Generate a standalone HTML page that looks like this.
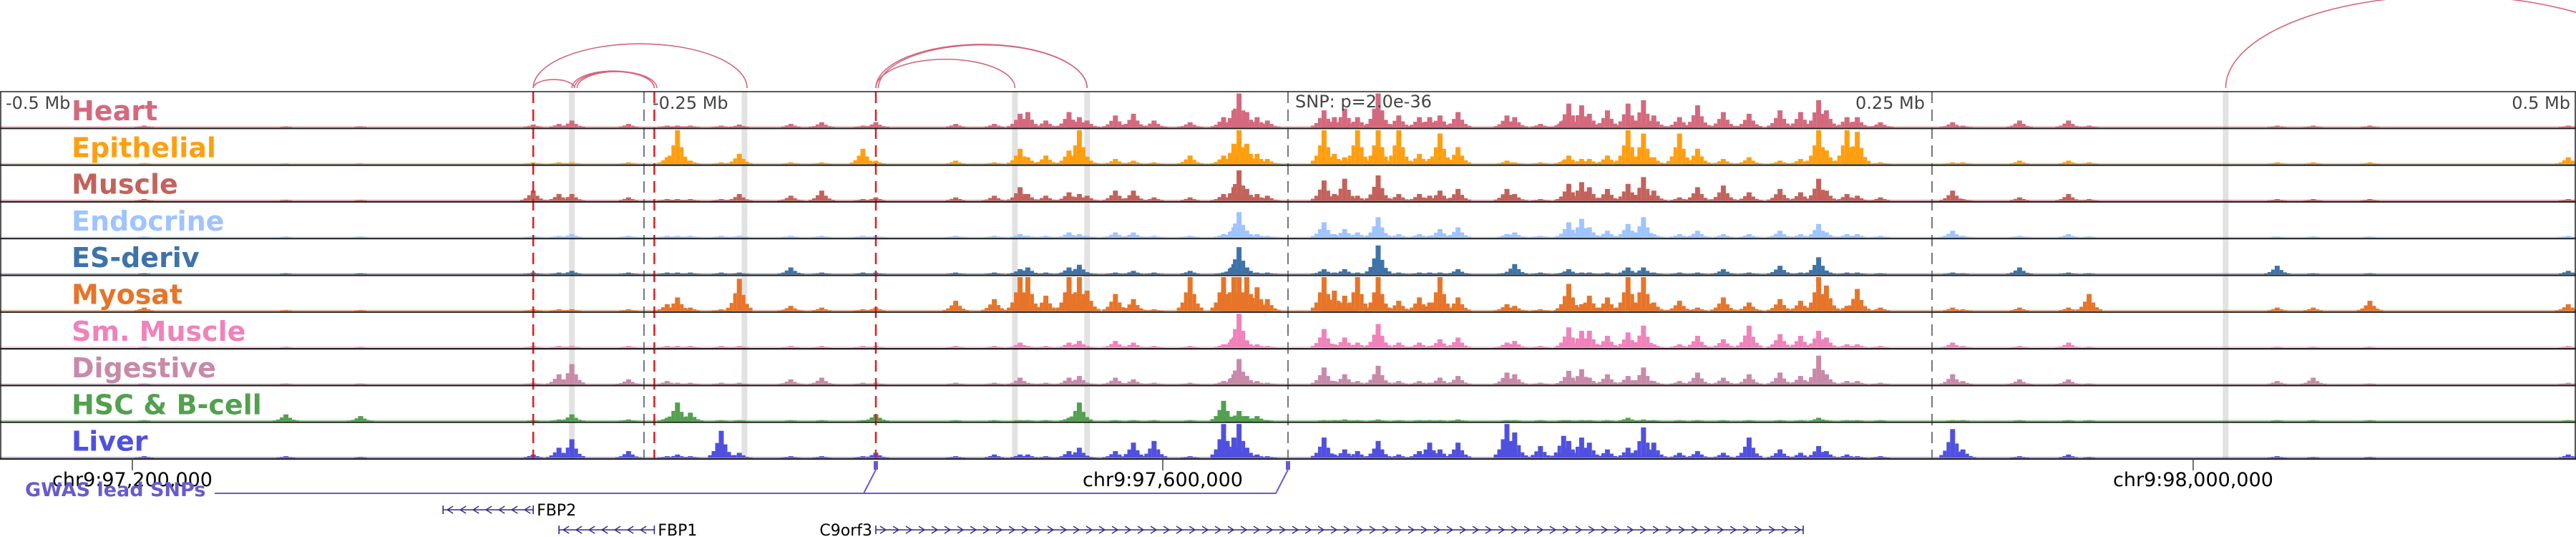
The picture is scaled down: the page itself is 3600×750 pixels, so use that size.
<!DOCTYPE html>
<html><head><meta charset="utf-8">
<style>
html,body{margin:0;padding:0;background:#fff;}
svg{display:block;font-family:"DejaVu Sans","Liberation Sans",sans-serif;}
</style></head>
<body>
<svg id="chart" width="3600" height="750" viewBox="0 0 3600 750" xmlns="http://www.w3.org/2000/svg">
<g id="bands"></g>
<g id="tracks"></g>
<g id="vlines"></g>
<g id="frame"></g>
<g id="arcs"></g>
<g id="labels"></g>
<g id="axis"></g>
<g id="gwas"></g>
<g id="genes"></g>
<text x="8" y="152" font-size="24" fill="#444">-0.5 Mb</text>
<text x="912" y="152" font-size="24" fill="#444">-0.25 Mb</text>
<text x="2690" y="152" font-size="24" fill="#444" text-anchor="end">0.25 Mb</text>
<text x="3592" y="152" font-size="24" fill="#444" text-anchor="end">0.5 Mb</text>
<text x="1810" y="150" font-size="24" fill="#444">SNP: p=2.0e-36</text>
</svg>
<script>
// ---- data ----
const trackNames = ["Heart","Epithelial","Muscle","Endocrine","ES-deriv","Myosat","Sm. Muscle","Digestive","HSC & B-cell","Liver"];
const trackColors = ["#d4697d","#ff9f10","#c3625b","#9fc4ff","#3e73a9","#e77428","#f082bb","#c88aa9","#52a050","#5050e0"];
// peak positions, kb relative to lead SNP
const peakKb = [-444,-389,-360,-293,-283,-278,-256,-241,-237,-232,-220,-213,-193,-181,-165,-160,-129,-114,-104,-101,-94,-85,-81,-78,-67,-60,-52,-38,-25,-21,-19,-16,-12,-8,14,18,22,27,35,43,51,55,59,66,85,88,98,107,109,114,117,124,132,138,142,152,159,169,179,191,199,206,209,217,221,230,258,262,284,303,311,384,398,420,497];
const heart = [.05,.03,.03,.08,.1,.2,.1,.05,.05,.05,.05,.08,.1,.15,.05,.15,.1,.1,.4,.45,.2,.45,.3,.2,.35,.4,.2,.15,.3,.5,1,.45,.3,.2,.5,.3,.55,.3,1,.35,.3,.3,.35,.45,.35,.3,.1,.2,.7,.65,.4,.5,.7,.8,.35,.3,.65,.45,.4,.5,.45,.8,.5,.3,.3,.15,.15,.05,.2,.2,.05,.05,.05,.05,.05];
const epithelial = [.03,.02,.02,.05,.05,.05,.05,.2,1,.1,.05,.3,.05,.05,.45,.1,.1,.05,.45,.2,.25,.4,1,.2,.15,.1,.05,.25,.25,.6,1,.6,.3,.15,1,.3,.2,1,1,1,.3,.15,.9,.5,.1,.05,.05,.1,.25,.15,.15,.25,1,.9,.2,.9,.45,.15,.2,.1,.15,1,.4,1,.95,.05,.05,.05,.1,.1,.05,.05,.05,.05,.2];
const muscle = [.05,.03,.03,.3,.2,.2,.1,.05,.05,.05,.05,.2,.15,.3,.05,.1,.1,.15,.4,.2,.15,.25,.2,.15,.3,.3,.1,.1,.2,.4,.9,.35,.2,.15,.6,.2,.65,.15,.75,.2,.2,.15,.3,.35,.35,.2,.05,.1,.5,.55,.4,.35,.5,.7,.3,.1,.4,.45,.25,.35,.25,.65,.3,.2,.15,.1,.3,.05,.1,.2,.05,.05,.05,.05,.05];
const endocrine = [.03,.03,.03,.05,.05,.1,.05,.05,.05,.05,.05,.05,.05,.05,.05,.05,.05,.05,.1,.05,.05,.15,.1,.05,.15,.15,.05,.05,.1,.3,.75,.2,.1,.05,.45,.1,.25,.15,.6,.1,.1,.05,.25,.3,.1,.15,.05,.05,.45,.55,.3,.2,.4,.6,.1,.1,.2,.1,.1,.2,.1,.4,.15,.1,.1,.05,.2,.05,.05,.1,.03,.03,.03,.03,.05];
const esDeriv = [.03,.03,.03,.05,.05,.1,.05,.05,.05,.05,.05,.05,.2,.05,.05,.05,.05,.05,.15,.2,.05,.2,.28,.05,.05,.1,.05,.1,.05,.3,.8,.2,.05,.05,.15,.05,.15,.05,.85,.05,.05,.05,.05,.15,.05,.3,.05,.05,.15,.05,.05,.05,.2,.2,.05,.05,.05,.15,.05,.25,.05,.5,.1,.05,.05,.03,.05,.03,.2,.05,.03,.25,.03,.03,.1];
const myosat = [.1,.03,.03,.05,.05,.05,.05,.2,.4,.1,.05,.95,.15,.1,.05,.1,.3,.35,1,1,.45,1,1,.6,.5,.35,.05,1,1,1,1,1,.7,.35,1,.6,.45,1,1,.3,.4,.25,1,.4,.2,.15,.05,.1,.8,.2,.45,.4,1,1,.25,.3,.1,.4,.25,.35,.3,1,.75,.15,.65,.1,.1,.05,.1,.1,.5,.1,.1,.3,.2];
const smMuscle = [.03,.03,.03,.05,.05,.05,.05,.05,.05,.05,.05,.05,.05,.05,.05,.05,.05,.05,.15,.05,.05,.15,.2,.05,.2,.15,.05,.05,.1,.3,1,.2,.1,.05,.55,.1,.3,.15,.7,.15,.15,.05,.25,.3,.15,.2,.05,.05,.6,.5,.5,.35,.45,.65,.1,.1,.35,.25,.65,.4,.35,.5,.3,.1,.1,.05,.15,.05,.05,.15,.03,.03,.03,.03,.05];
const digestive = [.03,.03,.03,.05,.3,.6,.15,.1,.05,.05,.05,.05,.15,.2,.05,.05,.05,.05,.2,.05,.05,.2,.25,.05,.2,.15,.05,.05,.1,.3,.75,.25,.1,.05,.5,.1,.3,.1,.55,.1,.1,.05,.2,.25,.35,.3,.05,.05,.4,.45,.2,.3,.25,.5,.1,.1,.35,.2,.3,.35,.25,.85,.3,.1,.1,.05,.3,.1,.15,.15,.03,.1,.2,.03,.05];
const hsc = [.03,.2,.15,.03,.05,.2,.05,.1,.55,.25,.03,.03,.03,.03,.03,.2,.03,.03,.03,.03,.03,.1,.55,.03,.03,.03,.03,.03,.6,.05,.3,.15,.15,.03,.03,.03,.05,.03,.05,.03,.03,.03,.03,.05,.03,.03,.03,.03,.03,.03,.03,.03,.1,.05,.03,.03,.03,.03,.03,.03,.03,.1,.03,.03,.03,.03,.03,.03,.03,.03,.03,.03,.03,.03,.03];
const liver = [.05,.05,.03,.1,.3,.55,.2,.05,.1,.05,.8,.15,.05,.05,.05,.15,.05,.1,.1,.1,.05,.2,.3,.05,.2,.45,.5,.05,1,.6,1,.3,.1,.05,.6,.1,.25,.2,.5,.1,.2,.45,.25,.45,1,.75,.35,.65,.5,.6,.45,.25,.3,.9,.45,.15,.2,.15,.6,.25,.15,.35,.2,.1,.05,.05,.85,.25,.05,.1,.03,.05,.03,.03,.1];
const trackValues = [heart,epithelial,muscle,endocrine,esDeriv,myosat,smMuscle,digestive,hsc,liver];
const highlightKb = [-278,-211,-106,-78,364];
const redDashKb = [-293,-246,-160];
const grayDashKb = [-250,0,250];
const arcStartKb = [-293,-278,-277,-276,-293,-160,-160,-159,364];
const arcEndKb = [-277,-246,-246,-245,-210,-106,-78,-78,537];
const axisTicks = [97200000,97600000,98000000];
const axisTickLabels = ["chr9:97,200,000","chr9:97,600,000","chr9:98,000,000"];
const snpPos = 97648611;
const gwasKb = [-160,0];
const geneNames = ["FBP2","FBP1","C9orf3"];
const geneStartKb = [-328,-283,-160];
const geneEndKb = [-293,-246,200];
const geneStrand = [-1,-1,1];
const geneRow = [0,1,1];

// ---- scales ----
const NS="http://www.w3.org/2000/svg";
const X0=1800, PXKB=3.6, TOP=128, TH=51.3, NT=10;
const xk = kb => X0 + kb*PXKB;
const xg = p => X0 + (p - snpPos)/1000*PXKB;
const tTop = i => TOP + i*TH;
function mk(tag, attrs, parent){const e=document.createElementNS(NS,tag);for(const k in attrs)e.setAttribute(k,attrs[k]);parent.appendChild(e);return e;}

// highlight bands
const gB=document.getElementById('bands');
highlightKb.forEach((k,i)=>{
  const r=mk('rect',{x:xk(k)-4,y:TOP,width:8,height:NT*TH,fill:'#e2e2e2'},gB);
  
  
});

// tracks
const gT=document.getElementById('tracks');
trackValues.forEach((vals,t)=>{
  const g=mk('g',{},gT);
  
  
  const bot=tTop(t)+TH-1.5, H=TH-4, col=trackColors[t];
  const base=mk('rect',{x:0,y:bot-1.5,width:3600,height:1.4,fill:col,opacity:0.55},g);
  
  
  vals.forEach((v,i)=>{
    const h=Math.min(v,1)*H, cx=xk(peakKb[i]);
    const parts=[[0,7,1],[-6,5,0.55],[6,5,0.5],[-11,5,0.25],[11,5,0.22],[-16,5,0.1],[16,5,0.1]];
    parts.forEach(p=>{
      const hh=h*p[2]; if(hh<0.5)return;
      const b=mk('rect',{x:cx+p[0]-p[1]/2,y:bot-hh,width:p[1],height:hh,fill:col},g);
      
      
    });
  });
});

// vertical dashed lines
const gV=document.getElementById('vlines');
redDashKb.forEach(k=>{
  const l=mk('line',{x1:xk(k),x2:xk(k),y1:TOP,y2:TOP+NT*TH,stroke:'#e41a1c','stroke-width':2.5,'stroke-dasharray':'16 9'},gV);
  
  
});
grayDashKb.forEach(k=>{
  const l=mk('line',{x1:xk(k),x2:xk(k),y1:TOP,y2:TOP+NT*TH,stroke:'#777','stroke-width':2,'stroke-dasharray':'16 9'},gV);
  
  
});

// frame
const gF=document.getElementById('frame');
for(let i=0;i<=NT;i++){
  const l=mk('line',{x1:0,x2:3600,y1:tTop(i),y2:tTop(i),stroke:'#222','stroke-width':i==0?1.5:2.2},gF);
  
  
}
const lb=mk('line',{x1:1,x2:1,y1:TOP,y2:TOP+NT*TH,stroke:'#222','stroke-width':1.5},gF);


const rb=mk('line',{x1:3599,x2:3599,y1:TOP,y2:TOP+NT*TH,stroke:'#222','stroke-width':1.5},gF);



// arcs
const gA=document.getElementById('arcs');
arcStartKb.forEach((s,i)=>{
  const x1=xk(s), x2=xk(arcEndKb[i]), a=(x2-x1)/2, h=(x2-x1)*0.207;
  const p=mk('path',{d:`M${x1},123 A${a},${h} 0 0 1 ${x2},123`,fill:'none',stroke:'#d4677a','stroke-width':1.6},gA);
  
  
});

// labels
const gL=document.getElementById('labels');
trackNames.forEach((n,i)=>{
  const t=mk('text',{x:100,y:tTop(i)+40,'font-size':38,'font-weight':'bold',fill:trackColors[i]},gL);
  t.textContent=n;
  
  
});

// axis
const gX=document.getElementById('axis');
axisTicks.forEach((p,i)=>{
  const x=xg(p);
  const l=mk('line',{x1:x,x2:x,y1:641,y2:657,stroke:'#444','stroke-width':1.5},gX);
  
  
  const t=mk('text',{x:x,y:679,'font-size':27,'text-anchor':'middle',fill:'#000'},gX);
  t.textContent=axisTickLabels[i];
  
  
});

// gwas
const gG=document.getElementById('gwas');
const gl=mk('text',{x:35,y:693,'font-size':27,'font-weight':'bold',fill:'#6a5acd'},gG);
gl.textContent='GWAS lead SNPs';


const hl=mk('line',{x1:300,x2:xk(gwasKb[gwasKb.length-1])-17,y1:689,y2:689,stroke:'#6a5acd','stroke-width':2},gG);


gwasKb.forEach(k=>{
  const x=xk(k);
  const s=mk('line',{x1:x-17,x2:x,y1:689,y2:656,stroke:'#6a5acd','stroke-width':2},gG);
  
  
  const r=mk('rect',{x:x-3,y:644,width:6,height:12,fill:'#6a5acd'},gG);
  
  
});

// genes
const gN=document.getElementById('genes');
geneNames.forEach((n,i)=>{
  const x1=xk(geneStartKb[i]), x2=xk(geneEndKb[i]), y=712+geneRow[i]*28;
  const g=mk('g',{},gN);
  
  
  mk('line',{x1:x1,x2:x2,y1:y,y2:y,stroke:'#2b2b8a','stroke-width':1.6},g);
  mk('line',{x1:x1,x2:x1,y1:y-6,y2:y+6,stroke:'#2b2b8a','stroke-width':1.6},g);
  mk('line',{x1:x2,x2:x2,y1:y-6,y2:y+6,stroke:'#2b2b8a','stroke-width':1.6},g);
  const d=geneStrand[i];
  for(let x=x1+10;x<x2-4;x+=18){
    mk('polyline',{points:`${x-d*4},${y-5} ${x+d*4},${y} ${x-d*4},${y+5}`,fill:'none',stroke:'#2b2b8a','stroke-width':1.4},g);
  }
  const t=mk('text',{x:d>0?x1-5:x2+5,y:y+8,'font-size':22,'text-anchor':d>0?'end':'start',fill:'#000'},g);
  t.textContent=n;
});
</script>
</body></html>
